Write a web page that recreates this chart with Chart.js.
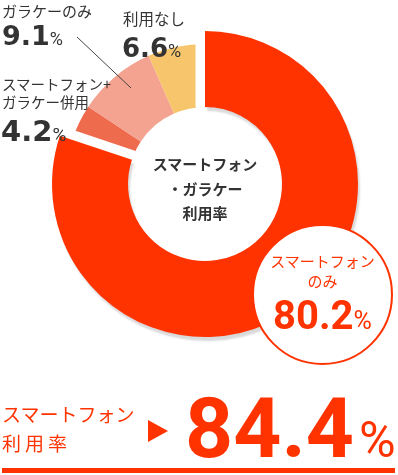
<!DOCTYPE html>
<html lang="ja">
<head>
<meta charset="utf-8">
<script src="https://cdn.jsdelivr.net/npm/chart.js@4.4.0/dist/chart.umd.min.js"></script>
<style>
  body { margin: 0; }
  #wrap { position: relative; width: 398px; height: 475px; overflow: hidden; background: #fff;
          font-family: "Noto Sans CJK JP", sans-serif; color: #333; }
  #chart { position: absolute; left: 0; top: 0; }
  .t { position: absolute; white-space: nowrap; line-height: 1; z-index: 2; }
  .num { font-family: "DejaVu Sans"; font-weight: 700; color: #333; }
  .pct { font-family: Roboto; font-weight: 400; }
  .red { color: #ff3300; }
  #center { left: 145px; width: 120px; top: 152px; text-align: center; font-size: 15px;
            font-weight: 700; line-height: 24.5px; }
  #bubble { position: absolute; left: 252px; top: 223.5px; width: 141px; height: 141px;
            box-sizing: border-box; border: 2px solid #ff3300; border-radius: 50%;
            background: #fff; z-index: 2; }
  #bubble div { position: absolute; left: 0; width: 100%; text-align: center; white-space: nowrap; }
  #arrow { position: absolute; left: 148px; top: 420px; width: 0; height: 0;
           border-left: 20px solid #ff3300; border-top: 11px solid transparent;
           border-bottom: 11px solid transparent; }
  #rule { position: absolute; left: 2px; top: 468px; width: 393px; height: 5px; background: #ff3300; }
</style>
</head>
<body>
<div id="wrap">
  <canvas id="chart" width="398" height="475"></canvas>

  <svg width="398" height="475" style="position:absolute;left:0;top:0;z-index:1">
    <line x1="77" y1="37" x2="131" y2="88" stroke="#444" stroke-width="1"/>
  </svg>

  <div class="t" style="left:2px;top:3px;font-size:15px">ガラケーのみ</div>
  <div class="t num" style="left:2px;top:22px;font-size:27px"><span id="v1"></span><span class="pct" style="font-size:18px">%</span></div>

  <div class="t" style="left:123px;top:11px;font-size:15.5px">利用なし</div>
  <div class="t num" style="left:122px;top:35px;font-size:26px"><span id="v2"></span><span class="pct" style="font-size:18px">%</span></div>

  <div class="t" style="left:2px;top:75px;font-size:14.5px;line-height:18px">スマートフォン+<br>ガラケー併用</div>
  <div class="t num" style="left:1px;top:117px;font-size:29px"><span id="v0"></span><span class="pct" style="font-size:19px">%</span></div>

  <div class="t" id="center">スマートフォン<br>・ガラケー<br>利用率</div>

  <div id="bubble">
    <div class="red" style="top:25.7px;font-size:15px;line-height:20px">スマートフォン<br>のみ</div>
    <div class="red" style="top:70.8px;font-family:Roboto;font-weight:700;font-size:40px;line-height:1"><span id="v3"></span><span class="pct" style="font-size:25px;font-weight:400">%</span></div>
  </div>

  <div class="t red" style="left:2px;top:399px;font-size:19px;line-height:29px">スマートフォン<br><span style="letter-spacing:4px">利用率</span></div>
  <div id="arrow"></div>
  <div class="t red" style="left:185px;top:387px;font-family:Roboto;font-weight:700;font-size:84px"><span id="total"></span><span class="pct" style="font-size:50px;margin-left:5px">%</span></div>
  <div id="rule"></div>
</div>

<script>
// order: drawn clockwise, smartphone-only last so its white edge cuts into the others
const categories = ['スマートフォン+ガラケー併用', 'ガラケーのみ', '利用なし', 'スマートフォンのみ'];
const shares = [4.2, 9.1, 6.6, 80.2];
const sliceColors = ['#ee6c4d', '#f3a390', '#f7c56b', '#ff3300'];
const smartphoneRate = 84.4;

const MAIN = 3;          // index of the big slice
const HOLE_R = 77;
const MAIN_R = 153;
const SUB_R = 140;
const GAP = 19;

shares.forEach((v, i) => { document.getElementById('v' + i).textContent = v.toFixed(1); });
document.getElementById('total').textContent = smartphoneRate.toFixed(1);

const sum = shares.reduce((a, b) => a + b, 0);
const before = shares.slice(0, MAIN).reduce((a, b) => a + b, 0);

const ringPlugin = {
    id: 'ring',
    afterDatasetsUpdate(chart) {
        chart.data.datasets.forEach((ds, d) => {
            chart.getDatasetMeta(d).data.forEach((arc, i) => {
                arc.innerRadius = HOLE_R;
                arc.outerRadius = i === MAIN ? MAIN_R : SUB_R;
            });
        });
    },
    beforeDatasetDraw(chart, args) {
        if (args.index !== 0) return;
        const ctx = chart.ctx;
        ctx.save();
        ctx.shadowColor = 'rgba(0,0,0,0.15)';
        ctx.shadowOffsetX = 2;
        ctx.shadowOffsetY = 4;
        ctx.shadowBlur = 2;
    },
    afterDatasetDraw(chart, args) {
        if (args.index === 0) chart.ctx.restore();
    }
};

const ctx = document.getElementById('chart').getContext('2d');

new Chart(ctx, {
    type: 'doughnut',
    data: {
        labels: categories,
        datasets: [
            {   // top: big slice again, clean, with shadow
                data: shares,
                backgroundColor: shares.map((v, i) => i === MAIN ? sliceColors[i] : 'rgba(0,0,0,0)'),
                borderWidth: 0,
                clip: false
            },
            {   // bottom: all slices, white edge round the big one makes the gaps
                data: shares,
                backgroundColor: sliceColors,
                borderColor: '#ffffff',
                borderWidth: shares.map((v, i) => i === MAIN ? GAP : 0),
                clip: false
            }
        ]
    },
    options: {
        responsive: false,
        devicePixelRatio: 1,
        animation: false,
        events: [],
        rotation: -360 * before / sum,
        layout: { padding: { left: 52, right: 40, top: 31, bottom: 138 } },
        plugins: {
            legend: { display: false },
            tooltip: { enabled: false }
        }
    },
    plugins: [ringPlugin]
});
</script>
</body>
</html>
